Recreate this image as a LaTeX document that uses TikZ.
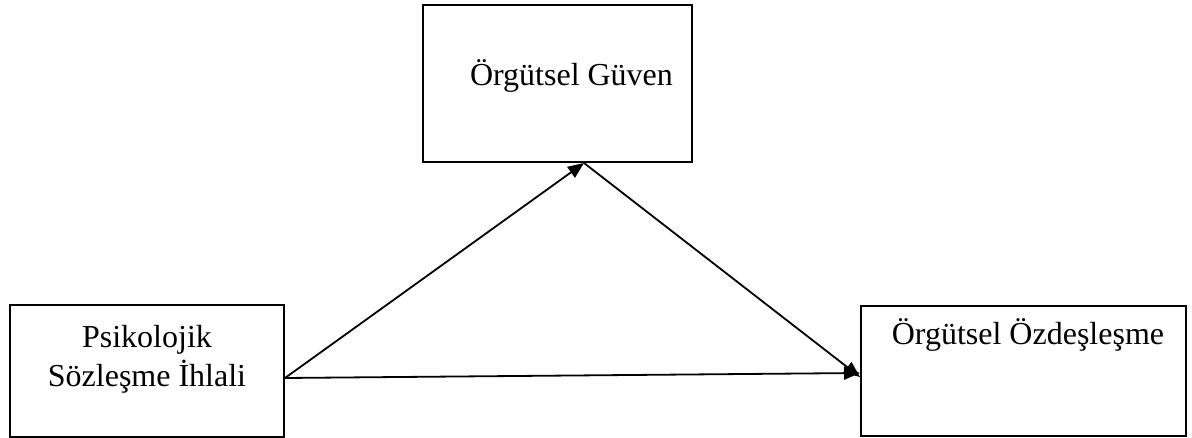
\documentclass[tikz,border=0pt]{standalone}
\usepackage{fontspec}
\setmainfont{Liberation Serif}
\usetikzlibrary{arrows.meta}
\begin{document}
\begin{tikzpicture}[x=1pt,y=-1pt,
  box/.style={draw,line width=2pt,inner sep=0pt,minimum width=#1},
  label/.style={font=\fontsize{32}{39}\selectfont,inner sep=0pt,align=center,anchor=base},
  link/.style={line width=1.8pt,-{Triangle[length=16pt,width=13pt]}}]
  \useasboundingbox (0,0) rectangle (1192,438);
  % the three boxes
  \node[box=269pt,minimum height=157pt] (guven) at (557.5,83.5) {};
  \node[box=274pt,minimum height=132pt] (ihlal) at (147,371) {};
  \node[box=325pt,minimum height=130pt] (ozdes) at (1023.5,371) {};
  % box texts
  \node[label] (tguven) at (571.5,86) {Örgütsel Güven};
  \node[label] (tihlal) at (147,386) {Psikolojik\\Sözleşme İhlali};
  \node[label] (tozdes) at (1028,345) {Örgütsel Özdeşleşme};
  % connectors
  \coordinate (src) at ([yshift=-7pt]ihlal.east);
  \coordinate (mid) at ([xshift=26.5pt]guven.south);
  \draw[link] (src) -- (mid);
  \draw[link] (mid) -- ([yshift=-6pt]ozdes.west);
  \draw[link] (src) -- ([yshift=-2pt]ozdes.west);
\end{tikzpicture}
\end{document}
